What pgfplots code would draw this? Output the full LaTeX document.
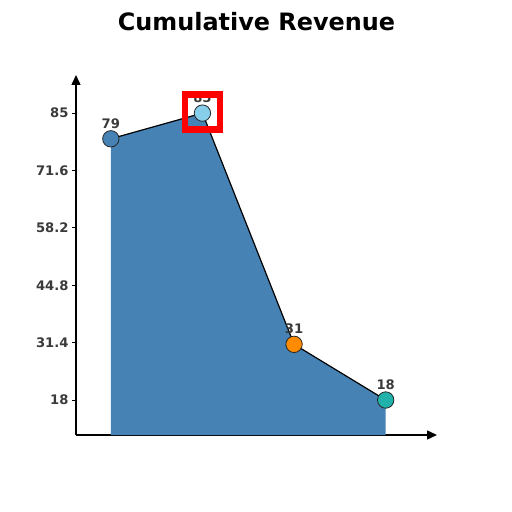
\documentclass[border=0pt]{standalone}
\usepackage{pgfplots}
\pgfplotsset{compat=1.18}
\usepackage{fontspec}
\setmainfont{DejaVu Sans}
\usetikzlibrary{arrows.meta}
\definecolor{steel}{HTML}{4682B4}
\definecolor{sky}{HTML}{87CEEB}
\definecolor{dorange}{HTML}{FF8C00}
\definecolor{lsea}{HTML}{20B2AA}
\definecolor{lbl}{HTML}{3A3A3A}
\begin{document}
\begin{tikzpicture}
\begin{axis}[
  scale only axis, width=361bp, height=360bp,
  xmin=-0.38, xmax=3.56, ymin=9.83, ymax=93.9,
  axis lines=left,
  axis line style={line width=1.4bp, -{Triangle[length=10bp,width=9bp]}},
  xtick=\empty,
  ytick={18,31.4,44.8,58.2,71.6,85},
  yticklabels={18,31.4,44.8,58.2,71.6,85},
  tick align=outside, major tick length=4bp,
  tick style={black, line width=0.8bp},
  yticklabel style={font=\bfseries\fontsize{13.2}{15}\selectfont, text=lbl},
  clip=false,
]
\addplot[fill=steel, draw=none] coordinates {(0,79)(1,85)(2,31)(3,18)} |- (axis cs:0,9.83) -- cycle;
\addplot[black, line width=1.2bp] coordinates {(0,79)(1,85)(2,31)(3,18)};
\addplot[draw=none, mark=none, nodes near coords, point meta=explicit symbolic,
  every node near coord/.style={font=\bfseries\fontsize{13.2}{15}\selectfont, text=lbl, anchor=south, yshift=7bp}]
  coordinates {(0,79)[79] (1,85)[85] (2,31)[31] (3,18)[18]};
\addplot[only marks, mark=*, mark size=8.2bp, mark options={fill=steel, draw=black!85, line width=0.8bp}] coordinates {(0,79)};
\addplot[only marks, mark=*, mark size=8.2bp, mark options={fill=sky, draw=black!85, line width=0.8bp}] coordinates {(1,85)};
\addplot[only marks, mark=*, mark size=8.2bp, mark options={fill=dorange, draw=black!85, line width=0.8bp}] coordinates {(2,31)};
\addplot[only marks, mark=*, mark size=8.2bp, mark options={fill=lsea, draw=black!85, line width=0.8bp}] coordinates {(3,18)};
\addplot[only marks, mark=square, mark size=17.5bp, mark options={draw=red, line width=6.5bp}] coordinates {(1,85.2)};
\end{axis}
\node[font=\bfseries\fontsize{24}{28}\selectfont] at (180.5bp,413bp) {Cumulative Revenue};
\path[use as bounding box] (-76bp,-77bp) rectangle (436bp,435bp);
\end{tikzpicture}
\end{document}
